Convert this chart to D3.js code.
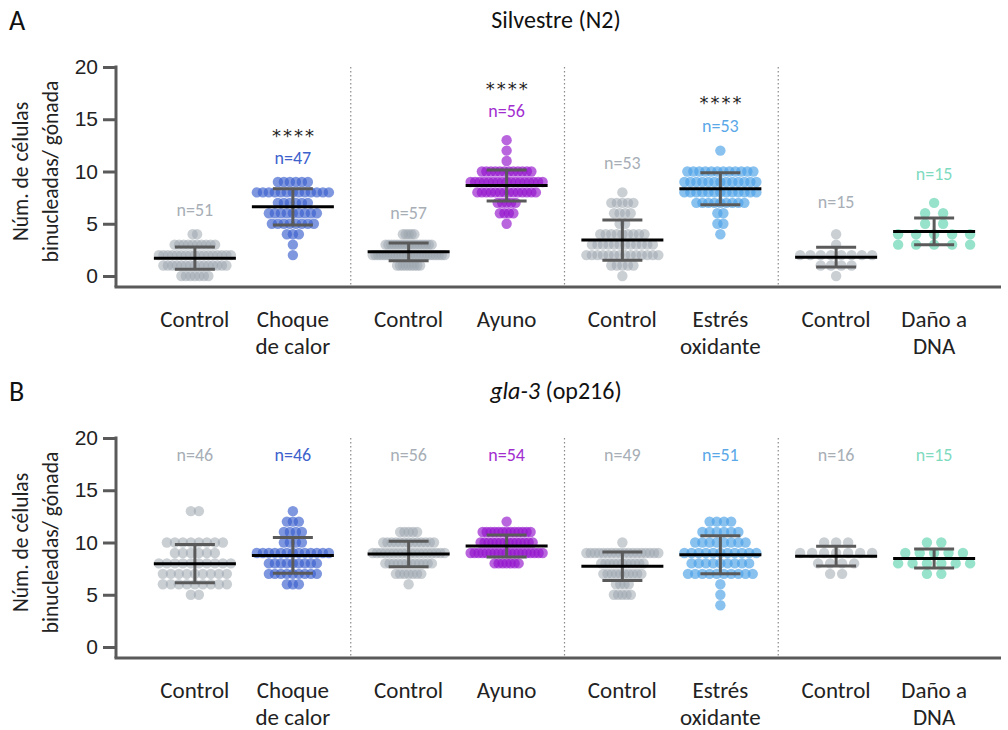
<!DOCTYPE html>
<html>
<head>
<meta charset="utf-8">
<script src="https://cdn.jsdelivr.net/npm/d3@7"></script>
<style>
  body { margin: 0; background: #fff; }
  svg { font-family: Carlito, Lato, "Open Sans", sans-serif; }
</style>
</head>
<body>
<svg width="1008" height="730"></svg>
<script>
const groupLabels = [["Control"], ["Choque", "de calor"], ["Control"], ["Ayuno"],
                     ["Control"], ["Estrés", "oxidante"], ["Control"], ["Daño a", "DNA"]];
const yTicks = [0, 5, 10, 15, 20];

// gonads per number of binucleate cells (array index = cells per gonad)
const wtCounts = [
  [7, 15, 17, 10, 2],
  [0, 0, 1, 1, 3, 8, 9, 6, 13, 6],
  [0, 9, 26, 17, 5],
  [0, 0, 0, 0, 0, 1, 4, 5, 14, 17, 12, 1, 1, 1],
  [1, 5, 14, 12, 9, 2, 4, 5, 1],
  [0, 0, 0, 0, 1, 2, 2, 9, 13, 13, 12, 0, 1],
  [1, 4, 8, 1, 1],
  [0, 0, 0, 5, 5, 2, 2, 1]
];
const glaCounts = [
  [0, 0, 0, 0, 0, 2, 9, 9, 10, 6, 8, 0, 0, 2],
  [0, 0, 0, 0, 0, 0, 3, 9, 9, 13, 4, 4, 3, 1],
  [0, 0, 0, 0, 0, 0, 1, 7, 12, 18, 13, 5],
  [0, 0, 0, 0, 0, 0, 0, 0, 7, 19, 14, 13, 1],
  [0, 0, 0, 0, 0, 5, 4, 10, 11, 18, 1],
  [0, 0, 0, 0, 1, 1, 1, 10, 9, 11, 8, 6, 4],
  [0, 0, 0, 0, 0, 0, 0, 2, 4, 7, 3],
  [0, 0, 0, 0, 0, 0, 0, 2, 6, 5, 2]
];

// where the n= labels sit (in y units) and significance marks
const wtLabelAt = [6.3, 11.3, 6.1, 15.8, 10.8, 14.4, 7.1, 9.8];
const glaLabelAt = [18.4, 18.4, 18.4, 18.4, 18.4, 18.4, 18.4, 18.4];
const wtStars = ["", "****", "", "****", "", "****", "", ""];
const glaStars = ["", "", "", "", "", "", "", ""];

const dotColors = ["#9aa3ad", "#3a60cc", "#9aa3ad", "#9414cc", "#9aa3ad", "#4a9fe6", "#9aa3ad", "#5fd3ad"];
const textColors = ["#a7aeb6", "#3d62cc", "#a7aeb6", "#a22ed0", "#a7aeb6", "#5aa8e8", "#a7aeb6", "#7fdbbf"];
const axisColor = "#5a5a5a";

const svg = d3.select("svg");

const pairX = d3.scaleBand().domain(d3.range(4)).range([137, 992]);
const groupX = i => pairX(Math.floor(i / 2)) + pairX.bandwidth() / 2 + (i % 2 ? 49 : -49);

function drawPanel(top, letter, title, counts, labelAt, stars) {
  const g = svg.append("g").attr("transform", `translate(0,${top})`);
  const y = d3.scaleLinear().domain([0, 20]).range([209, 0]);
  const axisY = 220;

  // panel letter and title
  g.append("text").attr("x", 9).attr("y", -37).attr("font-size", 28).attr("fill", "#111").text(letter);
  const t = g.append("text").attr("x", 556).attr("y", -39).attr("text-anchor", "middle")
    .attr("font-size", 24).attr("fill", "#111");
  title.forEach(p => t.append("tspan").attr("font-style", p.italic ? "italic" : null).text(p.text));

  // group separators
  g.selectAll(".sep").data([1, 2, 3]).enter().append("line")
    .attr("x1", d => pairX(d)).attr("x2", d => pairX(d))
    .attr("y1", 0).attr("y2", axisY)
    .attr("stroke", "#8a8a8a").attr("stroke-width", 1.2).attr("stroke-dasharray", "1.5,2.5");

  // y axis
  const ax = g.append("g").attr("transform", "translate(116,0)")
    .call(d3.axisLeft(y).tickValues(yTicks).tickSize(13).tickPadding(5));
  ax.select(".domain").remove();
  ax.selectAll(".tick line").attr("stroke", axisColor).attr("stroke-width", 3);
  ax.selectAll(".tick text").attr("font-size", 21).attr("fill", "#222").attr("font-family", null);
  g.append("line").attr("x1", 116).attr("x2", 116).attr("y1", y(20) - 1.5).attr("y2", axisY)
    .attr("stroke", axisColor).attr("stroke-width", 3);
  g.append("line").attr("x1", 114.5).attr("x2", 1001).attr("y1", axisY).attr("y2", axisY)
    .attr("stroke", axisColor).attr("stroke-width", 3);

  // y axis title
  [["Núm. de células", 20], ["binucleadas/ gónada", 50]].forEach(([s, x]) => {
    g.append("text").attr("transform", `translate(${x},${y(10)}) rotate(-90)`)
      .attr("text-anchor", "middle").attr("dy", "0.35em")
      .attr("font-size", 21.5).attr("fill", "#222").text(s);
  });

  // x labels
  groupLabels.forEach((lines, i) => {
    lines.forEach((s, k) => {
      g.append("text").attr("x", groupX(i)).attr("y", axisY + 32 + k * 27).attr("dy", "0.35em")
        .attr("text-anchor", "middle").attr("font-size", 23).attr("fill", "#222").text(s);
    });
  });

  counts.forEach((cnt, i) => {
    const cx = groupX(i);
    const maxRow = d3.max(cnt);
    const step = maxRow > 1 ? 72 / (maxRow - 1) : 0;
    const pts = [];
    cnt.forEach((c, v) => {
      for (let j = 0; j < c; j++) pts.push({ v, x: cx + (j - (c - 1) / 2) * step });
    });
    const values = pts.map(p => p.v);
    const mean = d3.mean(values);
    const sd = d3.deviation(values);

    g.append("g").selectAll("circle").data(pts).enter().append("circle")
      .attr("cx", d => d.x).attr("cy", d => y(d.v)).attr("r", 5.2)
      .attr("fill", dotColors[i]).attr("fill-opacity", i % 2 ? 0.65 : 0.52);

    // SD error bar
    g.append("line").attr("x1", cx).attr("x2", cx).attr("y1", y(mean - sd)).attr("y2", y(mean + sd))
      .attr("stroke", axisColor).attr("stroke-width", 3);
    [mean - sd, mean + sd].forEach(v => {
      g.append("line").attr("x1", cx - 20).attr("x2", cx + 20).attr("y1", y(v)).attr("y2", y(v))
        .attr("stroke", axisColor).attr("stroke-width", 3);
    });
    // mean
    g.append("line").attr("x1", cx - 41).attr("x2", cx + 41).attr("y1", y(mean)).attr("y2", y(mean))
      .attr("stroke", "#000").attr("stroke-width", 3);

    g.append("text").attr("x", cx).attr("y", y(labelAt[i])).attr("dy", "0.35em")
      .attr("text-anchor", "middle").attr("font-size", 18).attr("fill", textColors[i])
      .text("n=" + d3.sum(cnt));
    if (stars[i]) {
      g.append("text").attr("x", cx + 1).attr("y", y(labelAt[i]) - 27).attr("dy", "0.6em")
        .attr("text-anchor", "middle").attr("font-size", 18).attr("letter-spacing", 2)
        .attr("font-family", "DejaVu Sans").attr("fill", "#222").text(stars[i]);
    }
  });
}

drawPanel(67, "A", [{ text: "Silvestre (N2)" }], wtCounts, wtLabelAt, wtStars);
drawPanel(438, "B", [{ text: "gla-3", italic: true }, { text: " (op216)" }], glaCounts, glaLabelAt, glaStars);
</script>
</body>
</html>
